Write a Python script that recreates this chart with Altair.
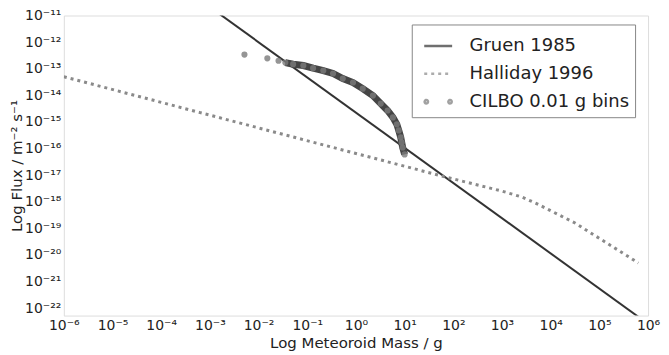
import altair as alt
import pandas as pd

# ---- data (log10 of mass in g, log10 of flux in m^-2 s^-1) ----
gruen_logm = [-3.0, 6.0]
gruen_logf = [-10.68, -22.59]

halliday_logm = [-6.0, -3.2, 1.8, 3.0, 3.4, 3.7, 4.5, 5.8]
halliday_logf = [-13.3, -14.65, -17.05, -17.6, -17.82, -18.06, -18.8, -20.3]

cilbo_logm = [-2.29, -1.82, -1.59, -1.45, -1.29, -1.08, -0.88, -0.67, -0.47, -0.27,
              -0.06, 0.14, 0.35, 0.51, 0.65, 0.76, 0.84, 0.88, 0.92, 0.94, 0.96, 1.0]
cilbo_logf = [-12.47, -12.61, -12.70, -12.77, -12.83, -12.88, -12.98, -13.07, -13.18, -13.37,
              -13.52, -13.75, -14.01, -14.31, -14.57, -14.83, -15.09, -15.32, -15.58, -15.77,
              -15.96, -16.22]

series = ["Gruen 1985", "Halliday 1996", "CILBO 0.01 g bins"]
series_colors = ["#333333", "#8a8a8a", "#7a7a7a"]

x_exps = list(range(-6, 7))
y_exps = list(range(-11, -23, -1))

# ---- tables ----
gruen = pd.DataFrame({"m": [10 ** v for v in gruen_logm], "f": [10 ** v for v in gruen_logf]})
halliday = pd.DataFrame({"m": [10 ** v for v in halliday_logm], "f": [10 ** v for v in halliday_logf]})
cilbo = pd.DataFrame({"m": [10 ** v for v in cilbo_logm], "f": [10 ** v for v in cilbo_logf],
                      "lm": cilbo_logm})
legend_df = pd.DataFrame({"s": series, "m": [1e-9] * 3, "f": [1e-15] * 3})

sup = str.maketrans("-0123456789", "⁻⁰¹²³⁴⁵⁶⁷⁸⁹")


def label_expr(exps):
    expr = "''"
    for e in exps:
        expr = f"round(log(datum.value)/LN10)=={e} ? '10{str(e).translate(sup)}' : ({expr})"
    return expr


FONT = "DejaVu Sans"
xscale = alt.Scale(type="log", domain=[1e-6, 1e6], nice=False)
yscale = alt.Scale(type="log", domain=[10 ** -22.28, 1e-11], nice=False, zero=False)

xaxis = alt.Axis(values=[10.0 ** e for e in x_exps], labelExpr=label_expr(x_exps),
                 title="Log Meteoroid Mass / g", grid=False, ticks=False, domain=False,
                 labelFontSize=14, titleFontSize=15, labelPadding=3, titlePadding=3,
                 labelFont=FONT, titleFont=FONT, labelColor="#222", titleColor="#222",
                 titleFontWeight="normal", labelFlush=False, labelOverlap=False)
yaxis = alt.Axis(values=[10.0 ** e for e in y_exps], labelExpr=label_expr(y_exps),
                 title="Log Flux / m⁻² s⁻¹", grid=False, ticks=False, domain=False,
                 labelFontSize=14, titleFontSize=15, labelPadding=3, titlePadding=0,
                 labelFont=FONT, titleFont=FONT, labelColor="#222", titleColor="#222",
                 titleFontWeight="normal", labelFlush=False, labelOverlap=False)

X = alt.X("m:Q", scale=xscale, axis=xaxis)
Y = alt.Y("f:Q", scale=yscale, axis=yaxis)
Xn = alt.X("m:Q", scale=xscale)
Yn = alt.Y("f:Q", scale=yscale)

gruen_layer = alt.Chart(gruen).mark_line(color="#333333", strokeWidth=2, clip=True).encode(x=X, y=Y)
halliday_layer = alt.Chart(halliday).mark_line(color="#8a8a8a", strokeWidth=3, strokeDash=[3, 4],
                                               clip=True).encode(x=Xn, y=Yn)
band_layer = alt.Chart(cilbo).transform_filter("datum.lm >= -1.46").mark_line(
    color="#454545", strokeWidth=7, clip=True).encode(x=Xn, y=Yn)
cilbo_layer = alt.Chart(cilbo).mark_circle(size=38, color="#7a7a7a", opacity=0.8, clip=True).encode(x=Xn, y=Yn)

twodot = ("M-0.97,0A0.12,0.12,0,1,0,-0.73,0A0.12,0.12,0,1,0,-0.97,0Z"
          "M0.73,0A0.12,0.12,0,1,0,0.97,0A0.12,0.12,0,1,0,0.73,0Z")
leg = alt.Legend(title=None, orient="none", legendX=349, legendY=9, symbolSize=784,
                 symbolStrokeWidth=2.5, symbolOffset=5, labelFontSize=18, labelFont=FONT,
                 labelColor="#222", labelOffset=16, rowPadding=3, padding=6,
                 strokeColor="#888888", fillColor="white", cornerRadius=0)
legend_layer = alt.Chart(legend_df).mark_point(filled=False, clip=True, strokeWidth=2.5).encode(
    x=Xn, y=Yn,
    color=alt.Color("s:N", scale=alt.Scale(domain=series, range=series_colors), legend=leg),
    shape=alt.Shape("s:N", scale=alt.Scale(domain=series, range=["stroke", "stroke", twodot]), legend=leg),
    strokeDash=alt.StrokeDash("s:N", scale=alt.Scale(domain=series, range=[[1, 0], [3, 4], [1, 0]]),
                              legend=leg),
)

chart = alt.layer(gruen_layer, halliday_layer, band_layer, cilbo_layer, legend_layer).properties(
    width=586, height=301,
    autosize=alt.AutoSizeParams(type="none"),
    padding={"left": 56, "top": 7, "right": 13, "bottom": 39},
).configure_view(stroke="#777777", strokeWidth=1).configure(background="white")

chart.save("out.html", embed_options={"renderer": "svg", "actions": False})
